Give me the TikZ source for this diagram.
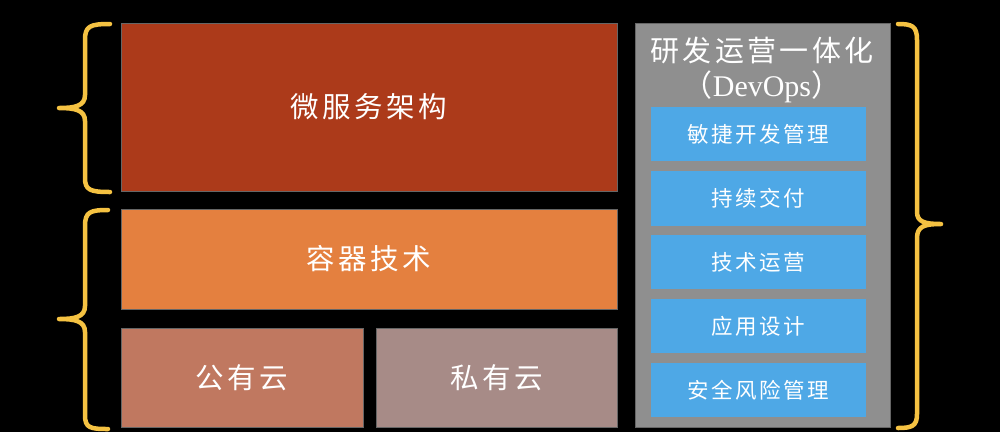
\documentclass[tikz,border=0pt]{standalone}
\usepackage{fontspec}
\setmainfont{Liberation Serif}
\newfontfamily\cjk[LetterSpace=12]{Noto Sans CJK SC}
\definecolor{micro}{HTML}{AC3A1A}
\definecolor{cont}{HTML}{E4803F}
\definecolor{pub}{HTML}{C07860}
\definecolor{priv}{HTML}{A78B87}
\definecolor{devg}{HTML}{8F8F8F}
\definecolor{devb}{HTML}{4EA8E6}
\definecolor{brace}{HTML}{F5C242}
\tikzset{
  blk/.style={draw=black!60, line width=0.6pt, inner sep=0pt, text=white},
  bigtxt/.style={font=\cjk\fontsize{28.5}{30}\selectfont},
  smalltxt/.style={font=\cjk\fontsize{21.5}{24}\selectfont},
  brc/.style={draw=brace, line width=4.5pt, line cap=round, line join=round},
}
\begin{document}
\begin{tikzpicture}[x=1pt,y=-1pt]
\fill[black] (0,0) rectangle (1000,432);
\useasboundingbox (0,0) rectangle (1000,432);
% left blocks
\node[blk, fill=micro, bigtxt, minimum width=496pt, minimum height=168pt] (micro) at (369,107) {微服务架构};
\node[blk, fill=cont, bigtxt, minimum width=496pt, minimum height=100pt] (cont) at (369,259) {容器技术};
\node[blk, fill=pub, bigtxt, minimum width=242pt, minimum height=99pt] (pub) at (242,377.5) {公有云};
\node[blk, fill=priv, bigtxt, minimum width=241pt, minimum height=99pt] (priv) at (496.5,377.5) {私有云};
% devops
\node[blk, fill=devg, minimum width=255pt, minimum height=404pt] (dev) at (762.5,225) {};
\node[text=white, font=\cjk\fontsize{29}{30}\selectfont] (devt) at (762,50) {研发运营一体化};
\node[text=white, font=\fontsize{30}{32}\selectfont] (devo) at (762,87) {{\cjk （}DevOps{\cjk ）}};
\node[blk, draw=none, fill=devb, smalltxt, minimum width=215pt, minimum height=54pt] (b1) at (758.5,134) {敏捷开发管理};
\node[blk, draw=none, fill=devb, smalltxt, minimum width=215pt, minimum height=55pt] (b2) at (758.5,198.5) {持续交付};
\node[blk, draw=none, fill=devb, smalltxt, minimum width=215pt, minimum height=54pt] (b3) at (758.5,262) {技术运营};
\node[blk, draw=none, fill=devb, smalltxt, minimum width=215pt, minimum height=54pt] (b4) at (758.5,326) {应用设计};
\node[blk, draw=none, fill=devb, smalltxt, minimum width=215pt, minimum height=54pt] (b5) at (758.5,390) {安全风险管理};
% braces left
\draw[brc] (110,24) .. controls (90,24) and (85,26) .. (85,40) -- (85,95) .. controls (85,106) and (75,108) .. (59,108)
  (59,108) .. controls (75,108) and (85,110) .. (85,121) -- (85,178) .. controls (85,190) and (90,192) .. (110,192);
\draw[brc] (108,210) .. controls (90,210) and (85,212) .. (85,226) -- (85,306) .. controls (85,317) and (75,319) .. (59,319)
  (59,319) .. controls (75,319) and (85,321) .. (85,332) -- (85,415) .. controls (85,428) and (90,429) .. (108,429);
% brace right
\draw[brc] (898,24) .. controls (912,24) and (917,26) .. (917,40) -- (917,212) .. controls (917,222) and (925,224) .. (941,224)
  (941,224) .. controls (925,224) and (917,226) .. (917,238) -- (917,414) .. controls (917,426) and (912,428) .. (898,428);
\end{tikzpicture}
\end{document}
